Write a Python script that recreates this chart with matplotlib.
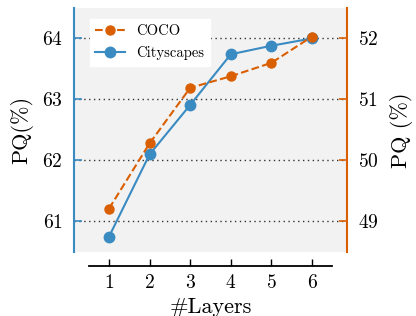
import matplotlib
matplotlib.use("Agg")
import matplotlib.pyplot as plt

plt.rcParams['font.family'] = 'serif'
plt.rcParams['font.serif'] = ['cmr10']
plt.rcParams['mathtext.fontset'] = 'cm'
plt.rcParams['axes.formatter.use_mathtext'] = True

layers = [1, 2, 3, 4, 5, 6]
cityscapes = [60.75, 62.10, 62.91, 63.74, 63.88, 64.0]
coco = [49.21, 50.28, 51.19, 51.38, 51.60, 52.03]

blue = '#3a8bc2'
orange = '#d95f02'

fig = plt.figure(figsize=(4.16, 3.16), dpi=100)
ax1 = fig.add_axes([0.178, 0.2025, 0.656, 0.7725])
ax1.set_facecolor('#f2f2f2')
ax2 = ax1.twinx()
ax2.patch.set_visible(False)

l1, = ax1.plot(layers, cityscapes, '-o', color=blue, lw=1.5, ms=7.5, label='Cityscapes')
l2, = ax2.plot(layers, coco, '--o', color=orange, lw=1.5, ms=6.5, label='COCO')

ax1.set_xlim(0.14, 6.86)
ax1.set_ylim(60.5, 64.5)
ax2.set_ylim(48.5, 52.5)
ax1.set_xticks(layers)
ax1.set_yticks([61, 62, 63, 64])
ax2.set_yticks([49, 50, 51, 52])

# dotted horizontal grid
ax1.grid(axis='y', linestyle=(0, (1, 2.5)), color='#333333', lw=1.0)
ax1.set_axisbelow(True)

for ax in (ax1, ax2):
    ax.spines['top'].set_visible(False)
ax1.spines['right'].set_visible(False)
ax2.spines['left'].set_visible(False)
ax2.spines['bottom'].set_visible(False)
ax1.spines['left'].set_color(blue)
ax1.spines['left'].set_linewidth(1.5)
ax2.spines['right'].set_color(orange)
ax2.spines['right'].set_linewidth(1.5)
ax1.spines['bottom'].set_position(('outward', 10))
ax1.spines['bottom'].set_bounds(0.5, 6.5)
ax1.spines['bottom'].set_linewidth(1.3)

ax1.tick_params(axis='x', direction='in', length=5, width=1, labelsize=14, pad=6)
ax1.tick_params(axis='y', direction='in', length=6, width=1.2, color=blue, labelsize=14, pad=8)
ax2.tick_params(axis='y', direction='in', length=6, width=1.2, color=orange, labelsize=14, pad=8)

ax1.set_xlabel('#Layers', fontsize=16, labelpad=4)
ax1.set_ylabel('PQ(%)', fontsize=16, labelpad=6)
ax2.set_ylabel('PQ (%)', fontsize=16, labelpad=8)

leg = ax2.legend([l2, l1], ['COCO', 'Cityscapes'], loc='upper left', fontsize=10.5,
                 frameon=True, fancybox=False, framealpha=1, edgecolor='white',
                 bbox_to_anchor=(0.03, 0.985), handlelength=2.0)

fig.savefig('out.png', dpi=100)
